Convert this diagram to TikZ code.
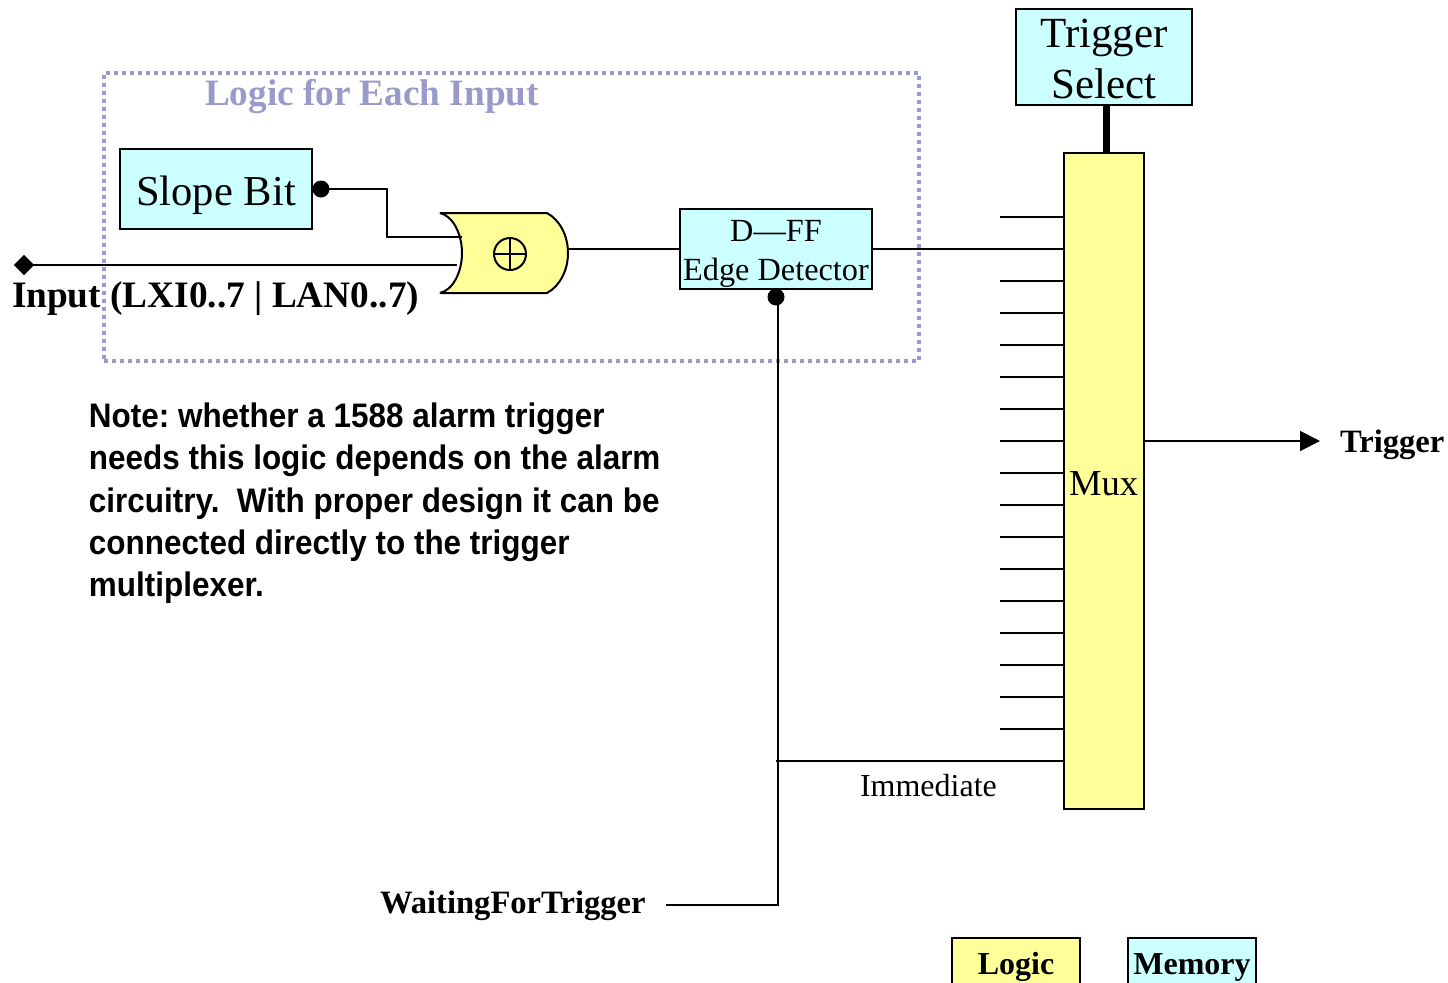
\documentclass[tikz,border=0pt]{standalone}
\usepackage{fontspec}
\setmainfont{Liberation Serif}
\newfontfamily\notefont[FakeStretch=0.925]{Liberation Sans}
\usetikzlibrary{arrows.meta,shapes.geometric}
\definecolor{memcyan}{RGB}{204,255,255}
\definecolor{logicyellow}{RGB}{255,255,153}
\definecolor{dotblue}{RGB}{153,153,204}
\frenchspacing
\begin{document}
\begin{tikzpicture}[
  x=0.5pt, y=-0.5pt,
  line width=1pt,
  mem/.style={draw, fill=memcyan, inner sep=0pt, align=center},
  logic/.style={draw, fill=logicyellow, inner sep=0pt, align=center},
  key/.style={minimum width=64pt, minimum height=40pt, anchor=north, font=\bfseries\fontsize{16}{18}\selectfont, text depth=17pt, text height=13pt},
  txt/.style={inner sep=0pt, anchor=base west},
  txtb/.style={inner sep=0pt, anchor=base west, font=\bfseries\fontsize{16.3}{20}\selectfont},
  dot/.style={circle, fill=black, inner sep=0pt, minimum size=8.5pt}
]
\useasboundingbox (0,0) rectangle (1448,982);
% logic region
\node[draw=dotblue, line width=2pt, dash pattern=on 2pt off 2pt, minimum width=407.5pt, minimum height=144pt, inner sep=0pt] (region) at (511.5,217) {};
\node[txt, text=dotblue, font=\bfseries\fontsize{18.6}{20}\selectfont] (regiontitle) at (204,105) {Logic for Each Input};
% boxes
\node[mem, minimum width=96pt, minimum height=40pt, font=\fontsize{21.3}{24}\selectfont] (slope) at (216,189) {\rule{0pt}{21pt}Slope Bit};
\node[mem, minimum width=96pt, minimum height=40pt, font=\fontsize{16.15}{19.5}\selectfont] (dff) at (776,249) {\rule{0pt}{15.6pt}D---FF\\Edge Detector};
\node[mem, minimum width=88pt, minimum height=48pt, font=\fontsize{21.5}{25.5}\selectfont] (select) at (1104,57) {\rule{0pt}{16.7pt}Trigger\\Select};
\node[logic, minimum width=40pt, minimum height=328pt] (mux) at (1104,481) {};
\node[txt, font=\fontsize{18.3}{20}\selectfont] (muxlabel) at (1068,495) {Mux};
\node[logic, key] (logickey) at (1016,937) {Logic};
\node[mem, key] (memkey) at (1192,937) {Memory};
% xor gate
\draw[fill=logicyellow, line join=bevel] (440,213) -- (547,213) .. controls (560,220) and (568,236) .. (568,253) .. controls (568,270) and (560,286) .. (547,293) -- (440,293) .. controls (453,290) and (462,272) .. (462,253) .. controls (462,234) and (453,216) .. (440,213) -- cycle;
\node[draw, circle, inner sep=0pt, minimum size=16pt] (xorsym) at (510,254) {};
\draw (xorsym.north) -- (xorsym.south);
\draw (xorsym.west) -- (xorsym.east);
\coordinate (xorout) at (568,249);
\coordinate (xortop) at (462,237);
\coordinate (xorlow) at (457,265);
% wires
\node[dot] (slopedot) at (321,189) {};
\draw (slopedot.center) -- (387,189) -- (387,237) -- (xortop);
\node[diamond, fill=black, inner sep=0pt, minimum size=10.5pt] (inport) at (24,265) {};
\draw (inport.center) -- (xorlow);
\draw (xorout) -- (dff.west |- xorout);
\draw (dff.east |- xorout) -- (mux.west |- xorout);
\draw[line width=3.5pt] (select.south -| 1106,0) -- (mux.north -| 1106,0);
\foreach \i/\y in {0/217,1/281,2/313,3/345,4/377,5/409,6/441,7/473,8/505,9/537,10/569,11/601,12/633,13/665,14/697,15/729} {
  \coordinate (in\i) at (1000,\y);
  \draw (in\i) -- (in\i -| mux.west);
}
\node[dot] (dffdot) at (776,297) {};
\coordinate (waitend) at (666,905);
\coordinate (immstart) at (776,761);
\draw (dffdot.center -| 778,0) -- (waitend -| 778,0) -- (waitend);
\draw (immstart) -- (immstart -| mux.west);
\coordinate (trigend) at (1320,441);
\draw[-{Triangle[length=10pt,width=10pt]}] (mux.east |- trigend) -- (trigend);
% labels
\node[txtb, font=\bfseries\fontsize{18.65}{20}\selectfont] (inlabel) at (11,307) {Input (LXI0..7 | LAN0..7)};
\node[txt, font=\fontsize{16}{18}\selectfont] (immlabel) at (859,796) {Immediate};
\node[txtb] (waitlabel) at (379,913) {WaitingForTrigger};
\node[txtb] (triglabel) at (1339,452) {Trigger};
\node[txt, anchor=north west, align=left, font=\notefont\bfseries\fontsize{17}{21.15}\selectfont] (note) at (88,402) {Note: whether a 1588 alarm trigger\\needs this logic depends on the alarm\\circuitry.\ \ With proper design it can be\\connected directly to the trigger\\multiplexer.};
\end{tikzpicture}
\end{document}
